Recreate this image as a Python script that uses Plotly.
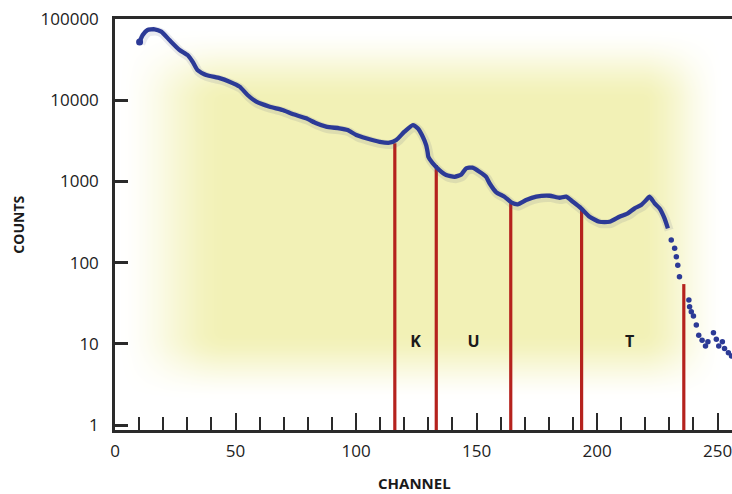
import numpy as np
import plotly.graph_objects as go

# ---- data ----
channel = [10.2, 11.5, 13.5, 16.4, 19.2, 22.6, 26.8, 30.1, 32.2, 34.2, 37.8, 43.4, 47.5, 51.7,
           55.0, 58.6, 64.2, 69.5, 73.7, 79.3, 83.5, 87.6, 93.1, 96.5, 100.1, 104.2, 109.8,
           113.9, 116.7, 120.1, 123.6, 125.6, 127.7, 129.1, 129.7, 130.0, 131.7, 134.6, 137.4,
           140.9, 143.7, 145.7, 148.3, 151.2, 154.0, 155.4, 158.2, 161.6, 164.4, 167.1, 170.6,
           174.8, 180.3, 184.4, 187.2, 190.0, 193.4, 196.9, 201.0, 205.2, 209.3, 212.8, 215.6,
           218.3, 220.4, 221.8, 223.9, 225.9, 228.0, 229.4]
counts = [52100, 63500, 73300, 74700, 69800, 55100, 41500, 36000, 29800, 23500, 20400, 18700,
          16900, 14700, 11600, 9600, 8320, 7570, 6760, 5980, 5200, 4720, 4510, 4300, 3730, 3400,
          3080, 3000, 3240, 4100, 4950, 4510, 3550, 2800, 2300, 2010, 1690, 1380, 1200, 1140,
          1220, 1450, 1480, 1320, 1140, 950, 735, 649, 553, 523, 590, 649, 667, 630, 649, 562,
          467, 368, 319, 319, 368, 405, 467, 512, 590, 649, 537, 467, 351, 264]
tail_channel = [230.8, 232.2, 232.9, 233.5, 234.2, 238.1, 238.4, 239.1, 240.0, 241.2, 242.2,
                243.6, 245.0, 246.0, 248.3, 249.5, 250.5, 252.0, 252.9, 254.5, 255.8]
tail_counts = [190, 150, 118, 93, 67, 34.6, 28.6, 24.8, 22.0, 17.1, 12.8, 11.1, 9.4, 10.6,
               13.7, 11.4, 9.4, 10.6, 8.8, 7.8, 7.1]
window_channel = [116.1, 133.3, 164.2, 193.6, 236.0]
window_top = [2960, 1590, 540, 467, 54.5]
label_text = ["K", "U", "T"]
label_channel = [124.7, 148.8, 213.5]
label_counts = [10.2, 10.2, 10.2]
x_ticks = [0, 50, 100, 150, 200, 250]
y_ticks = [1, 10, 100, 1000, 10000, 100000]

X_RANGE = [0, 256]
Y_RANGE = [-0.06, 5]
BLUE = "#2c3a96"
RED = "#b5221d"
AXC = "#2a2a2a"

fig = go.Figure()

# ---- soft yellow background glow (decoration) ----
gx = np.linspace(X_RANGE[0], X_RANGE[1], 160)
gl = np.linspace(Y_RANGE[0], Y_RANGE[1], 120)
u = (gx - X_RANGE[0]) / (X_RANGE[1] - X_RANGE[0])
v = (Y_RANGE[1] - gl) / (Y_RANGE[1] - Y_RANGE[0])


def smooth(a, b, t):
    s = np.clip((t - a) / (b - a), 0, 1)
    return s * s * (3 - 2 * s)


sx = smooth(0.0, 0.18, u) * (1 - smooth(0.85, 0.99, u))
sy = smooth(0.02, 0.20, v) * (1 - smooth(0.76, 0.93, v))
z = np.outer(sy, sx)
fig.add_trace(go.Heatmap(x=gx, y=10 ** gl, z=z, zmin=0, zmax=1, zsmooth="best",
                         colorscale=[[0, "white"], [1, "rgb(242,241,182)"]],
                         showscale=False, hoverinfo="skip"))

# ---- red window lines ----
rx, ry = [], []
for c, t in zip(window_channel, window_top):
    rx += [c, c, None]
    ry += [0.5, t, None]
fig.add_trace(go.Scatter(x=rx, y=ry, mode="lines", line=dict(color=RED, width=3.2),
                         hoverinfo="skip"))

# ---- curve shadow ----
fig.add_trace(go.Scatter(x=[c + 0.5 for c in channel], y=[k * 0.95 for k in counts],
                         mode="lines", line=dict(color="rgba(70,80,130,0.12)", width=9,
                                                 shape="spline", smoothing=0.5),
                         hoverinfo="skip"))
# ---- spectrum ----
fig.add_trace(go.Scatter(x=channel, y=counts, mode="lines",
                         line=dict(color=BLUE, width=4.3, shape="spline", smoothing=0.5)))
fig.add_trace(go.Scatter(x=channel[:1], y=counts[:1], mode="markers",
                         marker=dict(color=BLUE, size=7)))
fig.add_trace(go.Scatter(x=tail_channel, y=tail_counts, mode="markers",
                         marker=dict(color=BLUE, size=5.5)))

# ---- window labels ----
fig.add_trace(go.Scatter(x=label_channel, y=label_counts, mode="text", text=label_text,
                         textfont=dict(family="Open Sans", size=16, color="#1a1a1a",
                                       weight="bold")))

fig.add_annotation(text="<b>COUNTS</b>", xref="paper", yref="paper", x=-0.157, y=0.5,
                   xanchor="center", yanchor="middle",
                   textangle=-90, showarrow=False,
                   font=dict(family="Open Sans", size=14, color="#1a1a1a"))
fig.add_annotation(text="<b>CHANNEL</b>", xref="paper", yref="paper", x=0.486, y=-0.129,
                   xanchor="center", yanchor="middle", borderpad=0,
                   showarrow=False, font=dict(family="Open Sans", size=15, color="#1a1a1a"))

fig.update_layout(
    width=732, height=494,
    margin=dict(l=115, r=0, t=19, b=64, autoexpand=False),
    paper_bgcolor="white", plot_bgcolor="white",
    showlegend=False,
    font=dict(family="Open Sans", size=17, color="#222"),
    xaxis=dict(range=X_RANGE, tickvals=x_ticks, ticktext=[str(t) for t in x_ticks],
               ticks="inside", ticklen=17, tickwidth=2, tickcolor=AXC,
               minor=dict(dtick=10, tick0=0, ticks="inside", ticklen=13, tickwidth=2,
                          tickcolor=AXC, showgrid=False),
               showline=True, linecolor=AXC, linewidth=2.5, mirror=True, automargin=False,
               showgrid=False, zeroline=False, ticklabelstandoff=4,
               ticklabeloverflow="allow"),
    yaxis=dict(type="log", range=Y_RANGE, tickvals=y_ticks, ticktext=[str(t) for t in y_ticks],
               ticks="inside", ticklen=13, tickwidth=2.5, tickcolor=AXC, automargin=False,
               showline=True, linecolor=AXC, linewidth=2.5,
               showgrid=False, zeroline=False, ticklabelstandoff=10,
               ticklabeloverflow="allow"),
)

fig.write_html("out.html", config={"displayModeBar": False},
               post_script="document.body.style.margin='0';document.body.style.overflow='hidden';")
